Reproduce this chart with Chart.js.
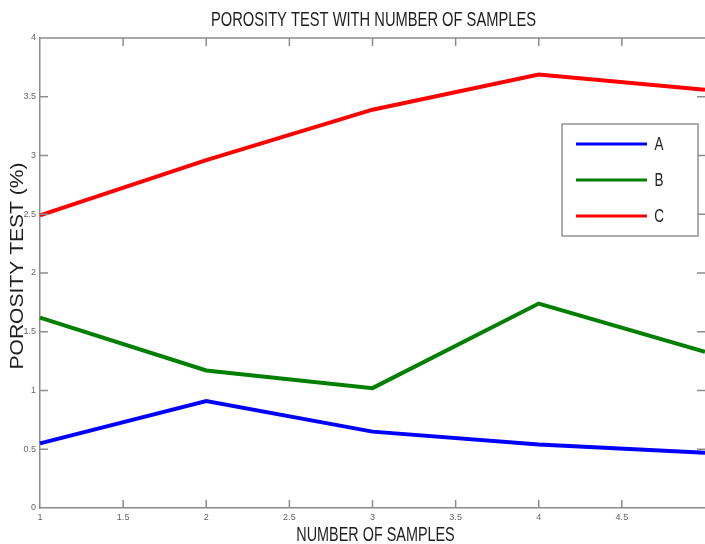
<!DOCTYPE html>
<html lang="en">
<head>
  <meta charset="UTF-8">
  <title>Porosity test with number of samples</title>
  <script src="https://cdn.jsdelivr.net/npm/chart.js@4/dist/chart.umd.min.js"></script>
  <style>
    body { margin: 0; background: #fff; }
    #wrap { width: 705px; height: 544px; }
  </style>
</head>
<body>
  <div id="wrap"><canvas id="chart" width="705" height="544"></canvas></div>
  <script>
    // data
    const samples = [1, 2, 3, 4, 5];
    const seriesA = [0.55, 0.91, 0.65, 0.54, 0.47];
    const seriesB = [1.62, 1.17, 1.02, 1.74, 1.33];
    const seriesC = [2.49, 2.96, 3.39, 3.69, 3.56];
    const seriesNames = ["A", "B", "C"];
    const seriesColors = ["#0000ff", "#007f00", "#ff0000"];
    const xTicks = [1, 1.5, 2, 2.5, 3, 3.5, 4, 4.5, 5];
    const yTicks = [0, 0.5, 1, 1.5, 2, 2.5, 3, 3.5, 4];

    const sans = "'Liberation Sans', Arial, sans-serif";
    const axisGray = "#8c8c8c";

    const toPoints = vals => vals.map((v, i) => ({ x: samples[i], y: v }));

    // squeezed / stretched text, the old matlab export look
    function drawText(ctx, text, x, y, size, sx, rot) {
      ctx.save();
      ctx.translate(x, y);
      if (rot) ctx.rotate(rot);
      ctx.scale(sx, 1);
      ctx.font = size + "px " + sans;
      ctx.fillStyle = "#1e1e1e";
      ctx.textAlign = "center";
      ctx.textBaseline = "middle";
      ctx.fillText(text, 0, 0);
      ctx.restore();
    }

    // inward ticks + top/right frame, plus the titles
    const frame = {
      id: "frame",
      afterDraw(chart) {
        const { ctx, chartArea: a, scales, options } = chart;
        ctx.save();
        ctx.strokeStyle = axisGray;
        ctx.lineWidth = 1.5;
        ctx.beginPath();
        ctx.moveTo(a.left, a.top);
        ctx.lineTo(a.right, a.top);
        xTicks.forEach(t => {
          if (t === 1 || t === 5) return;
          const x = scales.x.getPixelForValue(t);
          ctx.moveTo(x, a.bottom); ctx.lineTo(x, a.bottom - 8);
          ctx.moveTo(x, a.top); ctx.lineTo(x, a.top + 8);
        });
        yTicks.forEach(t => {
          if (t === 0 || t === 4) return;
          const y = scales.y.getPixelForValue(t);
          ctx.moveTo(a.left, y); ctx.lineTo(a.left + 8, y);
          ctx.moveTo(a.right, y); ctx.lineTo(a.right - 8, y);
        });
        ctx.stroke();
        ctx.restore();

        const mid = (a.left + a.right) / 2;
        drawText(ctx, options.plugins.title.text, mid + 1, 20, 21, 0.7);
        drawText(ctx, options.scales.x.title.text, mid + 3, 535, 20, 0.72);
        drawText(ctx, options.scales.y.title.text, 18, 266, 18, 1.17, -Math.PI / 2);
      }
    };

    // legend box inside the plot, upper right
    const boxLegend = {
      id: "boxLegend",
      afterDraw(chart) {
        const ctx = chart.ctx;
        const bx = 562, by = 124, bw = 136, bh = 112;
        ctx.save();
        ctx.fillStyle = "#fff";
        ctx.fillRect(bx, by, bw, bh);
        ctx.strokeStyle = "#777";
        ctx.lineWidth = 1.2;
        ctx.strokeRect(bx, by, bw, bh);
        ctx.restore();
        chart.data.datasets.forEach((ds, i) => {
          const y = by + 20 + i * 36;
          ctx.save();
          ctx.strokeStyle = ds.borderColor;
          ctx.lineWidth = 3;
          ctx.beginPath();
          ctx.moveTo(bx + 14, y);
          ctx.lineTo(bx + 85, y);
          ctx.stroke();
          ctx.restore();
          drawText(ctx, ds.label, bx + 97, y + 1, 18, 0.75);
        });
      }
    };

    new Chart(document.getElementById("chart"), {
      type: "line",
      data: {
        datasets: [seriesA, seriesB, seriesC].map((vals, i) => ({
          label: seriesNames[i],
          data: toPoints(vals),
          borderColor: seriesColors[i],
          backgroundColor: seriesColors[i],
          borderWidth: 4,
          pointRadius: 0,
          tension: 0,
          clip: false
        }))
      },
      options: {
        responsive: false,
        animation: false,
        layout: { padding: { top: 38, right: 0, left: 0, bottom: 0 } },
        plugins: {
          legend: { display: false },
          tooltip: { enabled: false },
          title: {
            display: false,
            text: "POROSITY TEST WITH NUMBER OF SAMPLES"
          }
        },
        scales: {
          x: {
            type: "linear",
            min: 1,
            max: 5,
            // plot runs off the right edge in the original, so no label padding there
            afterFit: s => { s.height = 36; s.paddingRight = 0; },
            afterBuildTicks: s => { s.ticks = xTicks.map(v => ({ value: v })); },
            grid: { display: false, drawTicks: false },
            border: { color: axisGray, width: 1.5 },
            ticks: {
              color: "#666",
              padding: 4,
              maxRotation: 0,
              font: { family: sans, size: 9 },
              callback: v => (v === 5 ? "" : String(v))
            },
            title: { display: false, text: "NUMBER OF SAMPLES" }
          },
          y: {
            min: 0,
            max: 4,
            afterFit: s => { s.width = 40; },
            afterBuildTicks: s => { s.ticks = yTicks.map(v => ({ value: v })); },
            grid: { display: false, drawTicks: false },
            border: { color: axisGray, width: 1.5 },
            ticks: {
              color: "#666",
              padding: 4,
              font: { family: sans, size: 9 },
              callback: v => String(v)
            },
            title: { display: false, text: "POROSITY TEST (%)" }
          }
        }
      },
      plugins: [frame, boxLegend]
    });
  </script>
</body>
</html>
